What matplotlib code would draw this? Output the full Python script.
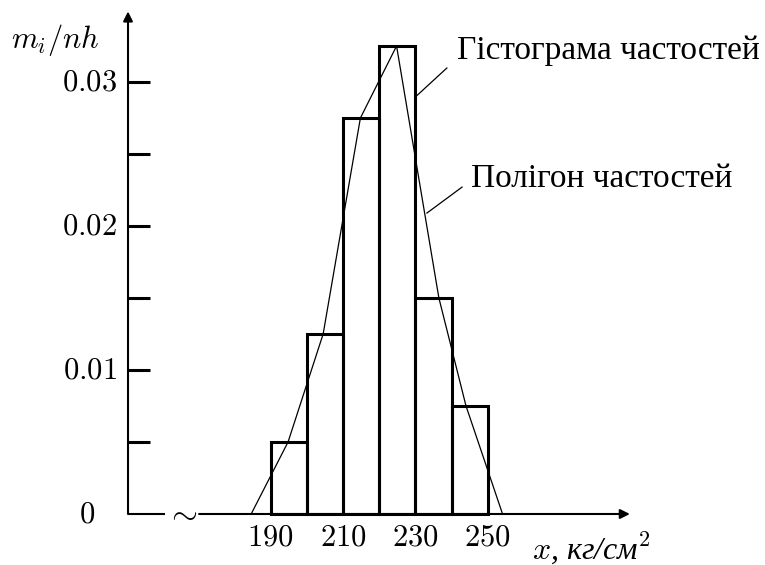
import numpy as np
import matplotlib
matplotlib.use("Agg")
import matplotlib.pyplot as plt

plt.rcParams['mathtext.fontset'] = 'cm'

# дані: межі інтервалів та відносні частоти / h
edges = [190, 200, 210, 220, 230, 240, 250]
heights = [0.005, 0.0125, 0.0275, 0.0325, 0.015, 0.0075]
xticks = [190, 210, 230, 250]
yticks = [0.01, 0.02, 0.03]
yticks_minor = [0.005, 0.015, 0.025]
ylabels = ["0.01", "0.02", "0.03"]

# полігон частостей (вершини, як на рисунку)
poly_x = [184.6, 194.8, 204.5, 214.8, 224.8, 236.5, 244.0, 254.1]
poly_y = [0, 0.005, 0.0125, 0.0275, 0.0325, 0.015, 0.0075, 0]

fig = plt.figure(figsize=(7.65, 5.65), dpi=100)
ax = fig.add_axes([0, 0, 1, 1])
ax.set_xlim(115.16, 326.66)
ax.set_ylim(-0.003542, 0.035694)
ax.axis('off')

# гістограма
ax.bar(edges[:-1], heights, width=10, align='edge', fill=False,
       edgecolor='black', linewidth=2.2)
# полігон
ax.plot(poly_x, poly_y, color='black', lw=0.9)

# осі
x_ax = 150.55
arr = dict(arrowstyle='-|>', lw=1.5, color='black', mutation_scale=14,
           shrinkA=0, shrinkB=0)
ax.annotate('', xy=(x_ax, 0.0349), xytext=(x_ax, 0), arrowprops=arr)
ax.plot([x_ax, 160.8], [0, 0], color='black', lw=1.5, solid_capstyle='butt')
ax.annotate('', xy=(289.3, 0), xytext=(170.2, 0), arrowprops=arr)
ax.text(165.5, 0.0001, r'$\sim$', fontsize=24, ha='center', va='center')

# поділки на осі y
for t in yticks + yticks_minor:
    ax.plot([x_ax, x_ax + 6.1], [t, t], color='black', lw=2.2,
            solid_capstyle='butt')
for t, s in zip(yticks, ylabels):
    ax.text(x_ax - 3, t, '$' + s + '$', fontsize=22, ha='right', va='center')
ax.text(x_ax - 9, 0, '$0$', fontsize=22, ha='right', va='center')

for t in xticks:
    ax.text(t, -0.0016, '$' + str(t) + '$', fontsize=22, ha='center',
            va='center')

ax.text(130.4, 0.0329, r'$m_i/nh$', fontsize=22, ha='center', va='center')
ax.text(262.3, -0.00235, r'$x$, кг/см$^2$', fontsize=23, ha='left',
        va='center', family='Liberation Serif', style='italic')

# підписи з виносками
ax.text(241.5, 0.0322, 'Гістограма частостей', fontsize=24, ha='left',
        va='center', family='Liberation Serif')
ax.plot([230.0, 238.7], [0.02896, 0.03097], color='black', lw=0.9)
ax.text(245.3, 0.0233, 'Полігон частостей', fontsize=24, ha='left',
        va='center', family='Liberation Serif')
ax.plot([233.2, 242.9], [0.0209, 0.0227], color='black', lw=0.9)

fig.savefig('out.png', dpi=100)
